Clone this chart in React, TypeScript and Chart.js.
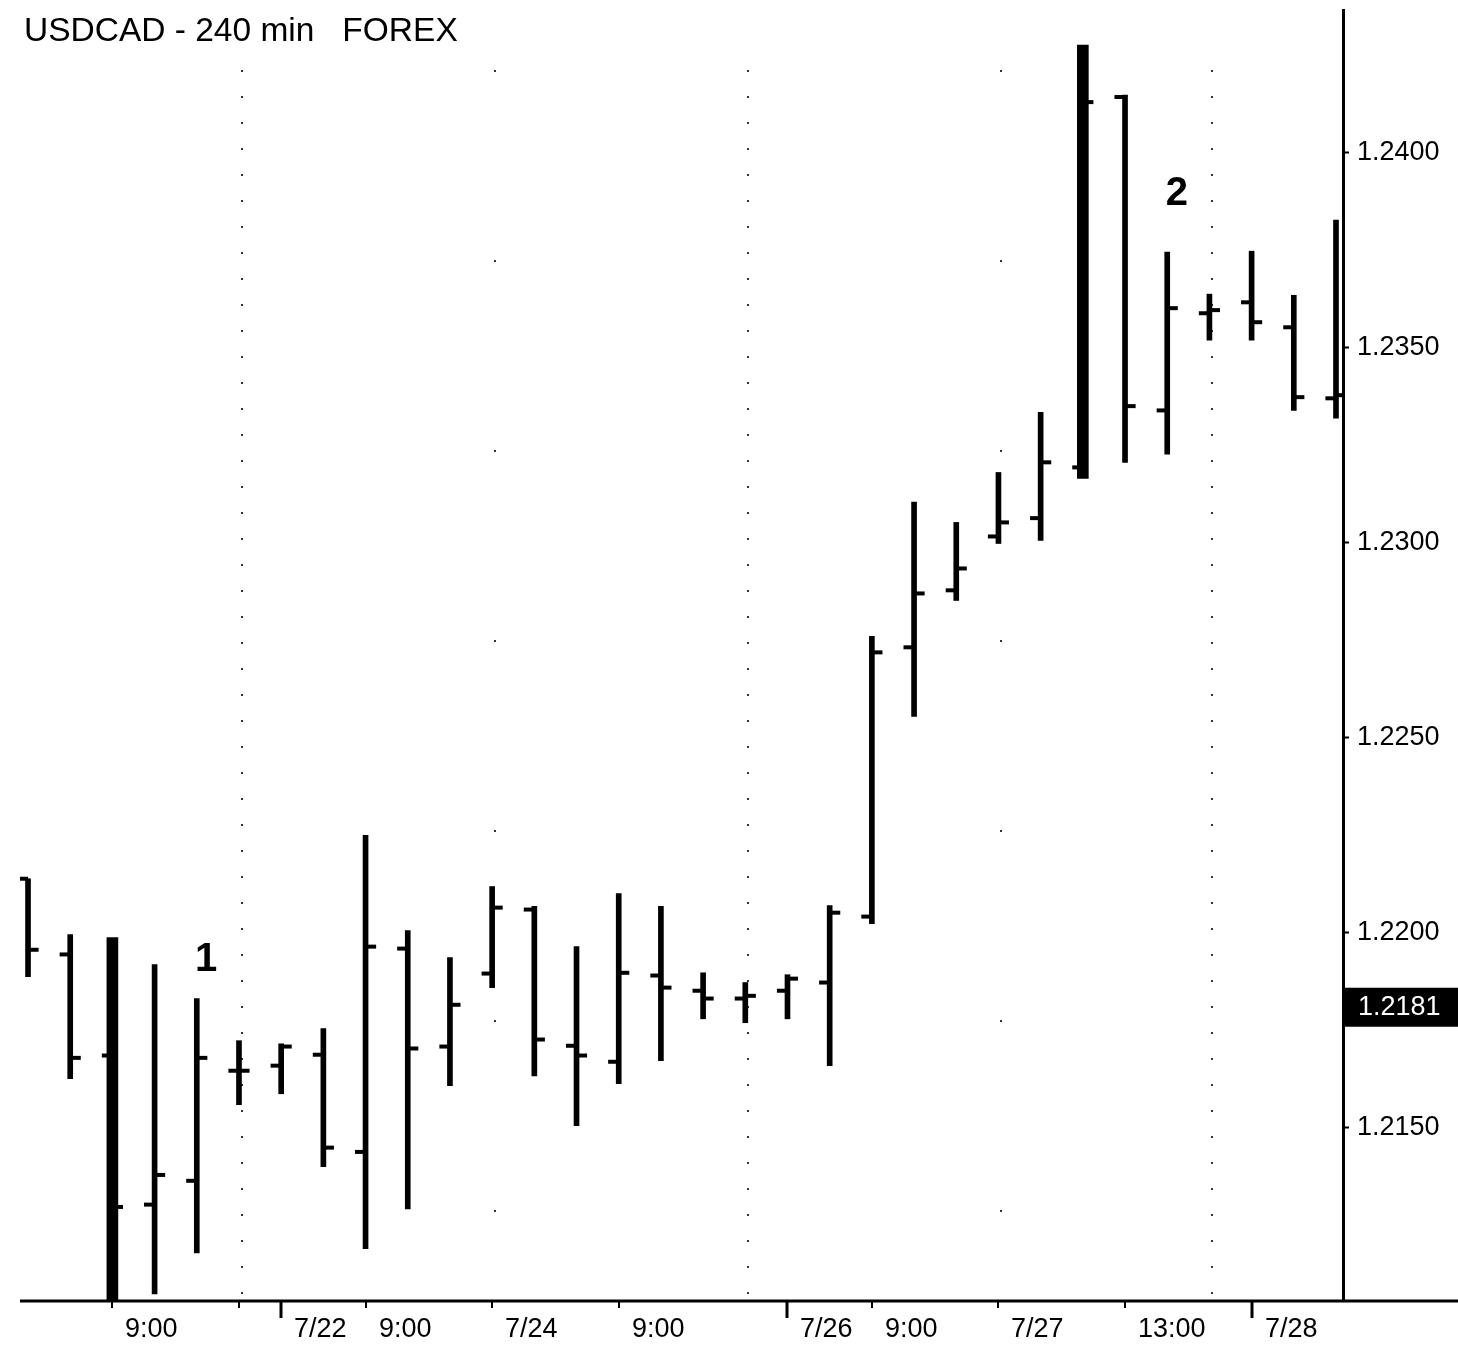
import React, { useEffect, useRef } from "react";
import { Chart, registerables } from "chart.js";

Chart.register(...registerables);

const titleText = "USDCAD - 240 min   FOREX";

// OHLC values, one entry per 240-minute bar (left to right)
const opens = [1.22138, 1.21944, 1.21685, 1.21303, 1.21364, 1.21646, 1.21659, 1.21687, 1.21438, 1.21959, 1.21708, 1.21895, 1.22059, 1.2171, 1.21669, 1.2189, 1.21851, 1.21831, 1.21851, 1.21872, 1.22041, 1.22731, 1.22877, 1.23015, 1.23062, 1.23192, 1.24141, 1.23338, 1.23587, 1.23615, 1.23551, 1.23369];
const highs = [1.22138, 1.21995, 1.21987, 1.21918, 1.21831, 1.21723, 1.21715, 1.21754, 1.22249, 1.22005, 1.21936, 1.22118, 1.22067, 1.21964, 1.221, 1.22067, 1.21897, 1.21872, 1.21892, 1.22069, 1.22759, 1.23103, 1.23051, 1.23179, 1.23333, 1.24274, 1.24146, 1.23744, 1.23636, 1.23746, 1.23633, 1.23826];
const lows = [1.21887, 1.21626, 1.2105, 1.21074, 1.21179, 1.21559, 1.21587, 1.214, 1.2119, 1.21292, 1.21608, 1.21859, 1.21633, 1.21505, 1.21613, 1.21672, 1.21779, 1.21769, 1.21779, 1.21659, 1.22023, 1.22554, 1.22851, 1.22997, 1.23005, 1.23164, 1.23205, 1.23226, 1.23518, 1.23518, 1.23338, 1.23318];
const closes = [1.21956, 1.21679, 1.21297, 1.21379, 1.21679, 1.21646, 1.21708, 1.21449, 1.21964, 1.21703, 1.21815, 1.22064, 1.21726, 1.21685, 1.21897, 1.21859, 1.21831, 1.21838, 1.21882, 1.22051, 1.22718, 1.22869, 1.22933, 1.23051, 1.23205, 1.24128, 1.23349, 1.236, 1.23595, 1.23564, 1.23372, 1.23377];
const wideBars = [2, 25];

const yTicks = [1.215, 1.22, 1.225, 1.23, 1.235, 1.24];
const xTickIdx = [2, 5, 6, 8, 11, 14, 18, 20, 23, 26, 29];
const xTickLabels = ["9:00", "", "7/22", "9:00", "7/24", "9:00", "7/26", "9:00", "7/27", "13:00", "7/28"];
const xTickMajor = [false, false, true, false, false, false, true, false, false, false, true];
const denseDotIdx = [5, 17, 28];
const sparseDotIdx = [11, 23];
const noteTexts = ["1", "2"];
const noteX = [4.22, 27.23];
const noteY = [1.21936, 1.23897];
const lastPrice = 1.2181;

const Y_MIN = 1.21056;
const Y_MAX = 1.24364;
const X_MIN = -0.19;
const X_MAX = 31.166;
const FONT = "'Liberation Sans', Arial, sans-serif";

export default function App() {
  const ref = useRef<HTMLCanvasElement | null>(null);

  useEffect(() => {
    const canvas = ref.current;
    if (!canvas) return;
    const idx = opens.map((_, i) => i);
    const normalHL = idx.filter((i) => !wideBars.includes(i)).map((i) => ({ x: i, y: [lows[i], highs[i]] }));
    const wideHL = idx.filter((i) => wideBars.includes(i)).map((i) => ({ x: i, y: [lows[i], highs[i]] }));
    const openPts = idx.map((i) => ({ x: i - 0.125, y: opens[i] }));
    const closePts = idx.map((i) => ({ x: i + 0.125, y: closes[i] }));

    const decor = {
      id: "decor",
      beforeDatasetsDraw(chart: any) {
        const { ctx, chartArea: a, scales } = chart;
        const x = scales.x;
        ctx.save();
        ctx.strokeStyle = "#333";
        ctx.lineWidth = 2;
        const draw = (i: number, dash: number[]) => {
          const px = Math.round(x.getPixelForValue(i)) + 3;
          ctx.setLineDash(dash);
          ctx.beginPath();
          ctx.moveTo(px, a.top + 60);
          ctx.lineTo(px, a.bottom);
          ctx.stroke();
        };
        denseDotIdx.forEach((i) => draw(i, [2, 24]));
        sparseDotIdx.forEach((i) => draw(i, [2, 188]));
        ctx.restore();
      },
      afterDraw(chart: any) {
        const { ctx, chartArea: a, scales, width } = chart;
        const x = scales.x;
        const y = scales.y;
        ctx.save();
        // x axis line
        ctx.strokeStyle = "#000";
        ctx.lineWidth = 3;
        ctx.beginPath();
        ctx.moveTo(a.left, a.bottom);
        ctx.lineTo(width, a.bottom);
        ctx.stroke();
        // x ticks & labels
        ctx.fillStyle = "#000";
        ctx.font = `27px ${FONT}`;
        ctx.textAlign = "left";
        ctx.textBaseline = "middle";
        xTickIdx.forEach((v, k) => {
          const px = Math.round(x.getPixelForValue(v));
          ctx.lineWidth = xTickMajor[k] ? 3 : 2;
          ctx.beginPath();
          ctx.moveTo(px, a.bottom);
          ctx.lineTo(px, a.bottom + (xTickMajor[k] ? 17 : 7));
          ctx.stroke();
          if (xTickLabels[k]) ctx.fillText(xTickLabels[k], px + 13, a.bottom + 29);
        });
        // title
        ctx.font = `33.5px ${FONT}`;
        ctx.textBaseline = "alphabetic";
        ctx.fillText(titleText, 24, 41);
        // wave notes
        ctx.font = `bold 40px ${FONT}`;
        ctx.textAlign = "center";
        ctx.textBaseline = "middle";
        noteTexts.forEach((t, k) => {
          ctx.fillText(t, x.getPixelForValue(noteX[k]), y.getPixelForValue(noteY[k]) + 2);
        });
        // last price box
        const py = y.getPixelForValue(lastPrice);
        ctx.fillStyle = "#000";
        ctx.fillRect(a.right, py - 19, width - a.right, 39);
        ctx.fillStyle = "#fff";
        ctx.font = `27px ${FONT}`;
        ctx.textAlign = "left";
        ctx.fillText(lastPrice.toFixed(4), a.right + 15, py + 1);
        ctx.restore();
      },
    };

    const chart = new Chart(canvas, {
      type: "bar",
      data: {
        datasets: [
          { type: "bar", data: normalHL as any, backgroundColor: "#000", barThickness: 5, grouped: false, order: 2 } as any,
          { type: "bar", data: wideHL as any, backgroundColor: "#000", barThickness: 11, grouped: false, order: 2 } as any,
          { type: "scatter", data: openPts, pointStyle: "line", pointRadius: 5.3, borderWidth: 4, borderColor: "#000", backgroundColor: "#000", order: 1 } as any,
          { type: "scatter", data: closePts, pointStyle: "line", pointRadius: 5.3, borderWidth: 4, borderColor: "#000", backgroundColor: "#000", order: 1 } as any,
        ],
      },
      options: {
        responsive: false,
        animation: false,
        devicePixelRatio: 1,
        events: [],
        layout: { padding: { left: 20, top: 10, right: 0, bottom: 49 } },
        plugins: { legend: { display: false }, tooltip: { enabled: false }, title: { display: false } },
        scales: {
          x: { type: "linear", display: false, min: X_MIN, max: X_MAX, offset: false },
          y: {
            type: "linear",
            position: "right",
            min: Y_MIN,
            max: Y_MAX,
            afterBuildTicks: (s: any) => {
              s.ticks = yTicks.map((v) => ({ value: v }));
            },
            afterFit: (s: any) => {
              s.width = 115;
              s.paddingTop = 0;
              s.paddingBottom = 0;
            },
            ticks: {
              callback: (v: any) => Number(v).toFixed(4),
              color: "#000",
              font: { family: FONT, size: 27 },
              padding: 8,
              includeBounds: false,
            },
            grid: { drawOnChartArea: false, drawTicks: true, tickLength: 6, tickColor: "#000", tickWidth: 2 },
            border: { display: true, color: "#000", width: 3 },
          },
        },
      } as any,
      plugins: [decor],
    });
    return () => chart.destroy();
  }, []);

  return (
    <div style={{ position: "absolute", left: 0, top: 0, width: 1458, height: 1350, background: "#fff" }}>
      <canvas ref={ref} width={1458} height={1350} />
    </div>
  );
}
